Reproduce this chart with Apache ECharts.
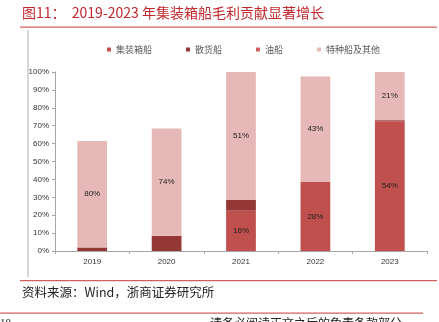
<!DOCTYPE html>
<html>
<head>
<meta charset="utf-8">
<script src="https://cdn.jsdelivr.net/npm/echarts@6/dist/echarts.min.js"></script>
<style>
html,body{margin:0;padding:0;background:#fff;}
#c{width:439px;height:322px;}
</style>
</head>
<body>
<div id="c"></div>
<script>
var categories = ['2019', '2020', '2021', '2022', '2023'];
var seriesNames = ['集装箱船', '散货船', '油船', '特种船及其他'];
var containerVals = [0, 0, 22.5, 38.5, 72.5];
var bulkVals = [2, 8.5, 6, 0, 0.6];
var tankerVals = [0, 0, 0, 0, 0];
var otherVals = [59.5, 60, 71.5, 59, 26.9];
var containerLabels = ['', '', '16%', '28%', '54%'];
var otherLabels = ['80%', '74%', '51%', '43%', '21%'];

var chart = echarts.init(document.getElementById('c'), null, {renderer: 'canvas'});
var labelStyle = function (arr) {
  return {
    show: true, position: 'inside', color: '#222', fontSize: 8,
    fontFamily: 'Liberation Sans, Arial',
    formatter: function (p) { return arr[p.dataIndex]; }
  };
};
chart.setOption({
  animation: false,
  backgroundColor: '#fff',
  textStyle: {fontFamily: 'Liberation Sans, Arial'},
  grid: {left: 55, right: 12, top: 72, bottom: 71, containLabel: false},
  legend: {
    left: 102, top: 40, itemWidth: 4, itemHeight: 4, itemGap: 34,
    icon: 'rect',
    textStyle: {fontSize: 9, color: '#595959', fontFamily: 'Noto Sans CJK SC'},
    data: seriesNames
  },
  xAxis: {
    type: 'category', data: categories,
    axisLine: {lineStyle: {color: '#a6a6a6', width: 1}},
    axisTick: {show: true, length: 3, lineStyle: {color: '#a6a6a6'}},
    axisLabel: {fontSize: 8, color: '#333', margin: 7}
  },
  yAxis: {
    type: 'value', min: 0, max: 100, interval: 10,
    axisLine: {show: true, lineStyle: {color: '#a6a6a6', width: 1}},
    axisTick: {show: true, length: 3, lineStyle: {color: '#a6a6a6'}},
    splitLine: {show: false},
    axisLabel: {fontSize: 8, color: '#333', margin: 6, formatter: function (v) { return v + '%'; }}
  },
  series: [
    {name: seriesNames[0], type: 'bar', stack: 's', data: containerVals, barWidth: '40%',
     itemStyle: {color: '#c0504d'}, label: labelStyle(containerLabels)},
    {name: seriesNames[1], type: 'bar', stack: 's', data: bulkVals,
     itemStyle: {color: '#953735'}},
    {name: seriesNames[2], type: 'bar', stack: 's', data: tankerVals,
     itemStyle: {color: '#d0605e'}},
    {name: seriesNames[3], type: 'bar', stack: 's', data: otherVals,
     itemStyle: {color: '#e6b9b8'}, label: labelStyle(otherLabels)}
  ],
  graphic: [
    {type: 'text', left: 22, top: 6, style: {
      text: '图11：  2019-2023 年集装箱船毛利贡献显著增长',
      fill: '#c0282d', font: '14px "Noto Sans CJK SC"'}},
    {type: 'rect', shape: {x: 20, y: 26.5, width: 417, height: 1.3}, style: {fill: '#d0605e'}},
    {type: 'rect', shape: {x: 27.5, y: 30, width: 1, height: 247}, style: {fill: '#b0b0b0'}},
    {type: 'rect', shape: {x: 20, y: 280, width: 417, height: 1.3}, style: {fill: '#d0605e'}},
    {type: 'text', left: 22, top: 286, style: {
      text: '资料来源：Wind，浙商证券研究所', fill: '#222', font: '12.5px "Noto Sans CJK SC"'}},
    {type: 'rect', shape: {x: 0, y: 312.5, width: 423, height: 1.3}, style: {fill: '#d0605e'}},
    {type: 'text', left: 0, top: 318, style: {text: '18', fill: '#222', font: '11px "Liberation Serif"'}},
    {type: 'text', left: 210, top: 317, style: {text: '请务必阅读正文之后的免责条款部分', fill: '#222', font: '12px "Noto Sans CJK SC"'}}
  ]
});
</script>
</body>
</html>
